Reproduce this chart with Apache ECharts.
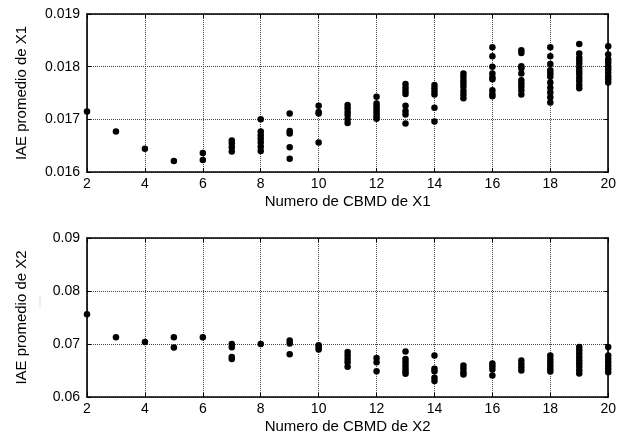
<!DOCTYPE html>
<html>
<head>
<meta charset="utf-8">
<script src="https://cdn.jsdelivr.net/npm/echarts@6/dist/echarts.min.js"></script>
<style>
  html, body { margin: 0; padding: 0; background: #ffffff; }
  #chart { width: 619px; height: 436px; }
</style>
</head>
<body>
<div id="chart"></div>
<script>
// Number of CBMD blocks (x values shared by both panels)
const cbmd = [2, 3, 4, 5, 6, 7, 8, 9, 10, 11, 12, 13, 14, 15, 16, 17, 18, 19, 20];

// Mean IAE of X1 for each CBMD count (one list of runs per count)
const iaeX1 = [
  [0.01715],
  [0.01677],
  [0.01644],
  [0.01621],
  [0.01636, 0.01623],
  [0.01660, 0.01654, 0.01647, 0.01639],
  [0.01700, 0.01677, 0.01670, 0.01663, 0.01656, 0.01648, 0.01640],
  [0.01711, 0.01678, 0.01673, 0.01647, 0.01625],
  [0.01726, 0.01714, 0.01711, 0.01656],
  [0.01727, 0.01721, 0.01714, 0.01708, 0.01700, 0.01693],
  [0.01743, 0.01730, 0.01725, 0.01720, 0.01715, 0.01710, 0.01705, 0.01701],
  [0.01767, 0.01760, 0.01754, 0.01748, 0.01726, 0.01716, 0.01709, 0.01692],
  [0.01765, 0.01759, 0.01753, 0.01747, 0.01722, 0.01696],
  [0.01787, 0.01781, 0.01774, 0.01768, 0.01762, 0.01754, 0.01747, 0.01740],
  [0.01837, 0.01820, 0.01800, 0.01787, 0.01780, 0.01776, 0.01755, 0.01748, 0.01744],
  [0.01831, 0.01826, 0.01801, 0.01797, 0.01787, 0.01774, 0.01768, 0.01762, 0.01755, 0.01747],
  [0.01837, 0.01820, 0.01805, 0.01793, 0.01787, 0.01781, 0.01770, 0.01760, 0.01751, 0.01742, 0.01732],
  [0.01843, 0.01825, 0.01817, 0.01811, 0.01805, 0.01798, 0.01792, 0.01786, 0.01779, 0.01773, 0.01765, 0.01759],
  [0.01839, 0.01823, 0.01814, 0.01808, 0.01801, 0.01795, 0.01789, 0.01782, 0.01776, 0.01770]
];

// Mean IAE of X2 for each CBMD count
const iaeX2 = [
  [0.07563],
  [0.07126],
  [0.07038],
  [0.07126, 0.06932],
  [0.07126],
  [0.07000, 0.06938, 0.06756, 0.06719],
  [0.06998],
  [0.07064, 0.07008, 0.06807],
  [0.06976, 0.06938, 0.06895],
  [0.06850, 0.06782, 0.06719, 0.06657, 0.06569],
  [0.06737, 0.06657, 0.06488],
  [0.06857, 0.06719, 0.06657, 0.06595, 0.06531, 0.06482, 0.06437],
  [0.06782, 0.06531, 0.06488, 0.06362, 0.06300],
  [0.06595, 0.06531, 0.06469, 0.06426],
  [0.06632, 0.06582, 0.06520, 0.06407],
  [0.06689, 0.06625, 0.06563, 0.06501],
  [0.06782, 0.06719, 0.06657, 0.06595, 0.06531, 0.06482],
  [0.06944, 0.06882, 0.06820, 0.06756, 0.06694, 0.06632, 0.06569, 0.06507, 0.06445],
  [0.06944, 0.06782, 0.06719, 0.06657, 0.06595, 0.06531, 0.06469]
];

// Axis ticks
const xTicks = [2, 4, 6, 8, 10, 12, 14, 16, 18, 20];
const yTicksX1 = [0.016, 0.017, 0.018, 0.019];
const yTicksX2 = [0.06, 0.07, 0.08, 0.09];

const FONT = 'Liberation Sans';

function toPoints(groups) {
  const pts = [];
  groups.forEach((vals, i) => vals.forEach(v => pts.push([cbmd[i], v])));
  return pts;
}

const frameLine = { show: true, onZero: false, lineStyle: { color: '#000', width: 1.6 } };
const innerTick = { show: true, inside: true, length: 4, lineStyle: { color: '#000', width: 1 } };
const gridLine = { show: true, lineStyle: { color: '#444', type: [1, 1], width: 1 } };

function xAxes(gridIndex, name) {
  const step = xTicks[1] - xTicks[0];
  const base = { gridIndex, type: 'value', min: xTicks[0], max: xTicks[xTicks.length - 1], interval: step };
  return [
    Object.assign({}, base, {
      position: 'bottom', name, nameLocation: 'middle', nameGap: 22,
      nameTextStyle: { fontFamily: FONT, fontSize: 15, color: '#000' },
      axisLine: frameLine, axisTick: innerTick, splitLine: gridLine,
      axisLabel: { fontFamily: FONT, fontSize: 14, color: '#000', margin: 5 }
    }),
    Object.assign({}, base, {
      position: 'top', axisLine: frameLine, axisTick: innerTick,
      splitLine: { show: false }, axisLabel: { show: false }
    })
  ];
}

function yAxes(gridIndex, name, ticks, digits) {
  const base = { gridIndex, type: 'value', min: ticks[0], max: ticks[ticks.length - 1],
                 interval: +(ticks[1] - ticks[0]).toFixed(6) };
  return [
    Object.assign({}, base, {
      position: 'left', name, nameLocation: 'middle', nameGap: 58,
      nameTextStyle: { fontFamily: FONT, fontSize: 15, color: '#000' },
      axisLine: frameLine, axisTick: innerTick, splitLine: gridLine,
      axisLabel: { fontFamily: FONT, fontSize: 14, color: '#000', margin: 7,
                   formatter: v => v.toFixed(digits) }
    }),
    Object.assign({}, base, {
      position: 'right', axisLine: frameLine, axisTick: innerTick,
      splitLine: { show: false }, axisLabel: { show: false }
    })
  ];
}

const dotStyle = { color: '#000', opacity: 1 };

const chart = echarts.init(document.getElementById('chart'), null, { renderer: 'canvas' });

chart.setOption({
  animation: false,
  backgroundColor: '#ffffff',
  grid: [
    { left: 87, top: 14, width: 524, height: 158 },
    { left: 87, top: 238, width: 524, height: 159 }
  ],
  xAxis: [...xAxes(0, 'Numero de CBMD de X1'), ...xAxes(1, 'Numero de CBMD de X2')],
  yAxis: [...yAxes(0, 'IAE promedio de X1', yTicksX1, 3), ...yAxes(1, 'IAE promedio de X2', yTicksX2, 2)],
  graphic: [
    // faint stray mark left of the lower panel
    { type: 'line', shape: { x1: 40, y1: 297, x2: 40, y2: 308 },
      style: { stroke: '#bbb', lineWidth: 1, lineDash: [1, 1] } }
  ],
  series: [
    { type: 'scatter', xAxisIndex: 0, yAxisIndex: 0, data: toPoints(iaeX1),
      symbol: 'circle', symbolSize: 6.5, itemStyle: dotStyle },
    { type: 'scatter', xAxisIndex: 2, yAxisIndex: 2, data: toPoints(iaeX2),
      symbol: 'circle', symbolSize: 6.5, itemStyle: dotStyle }
  ]
});
</script>
</body>
</html>
